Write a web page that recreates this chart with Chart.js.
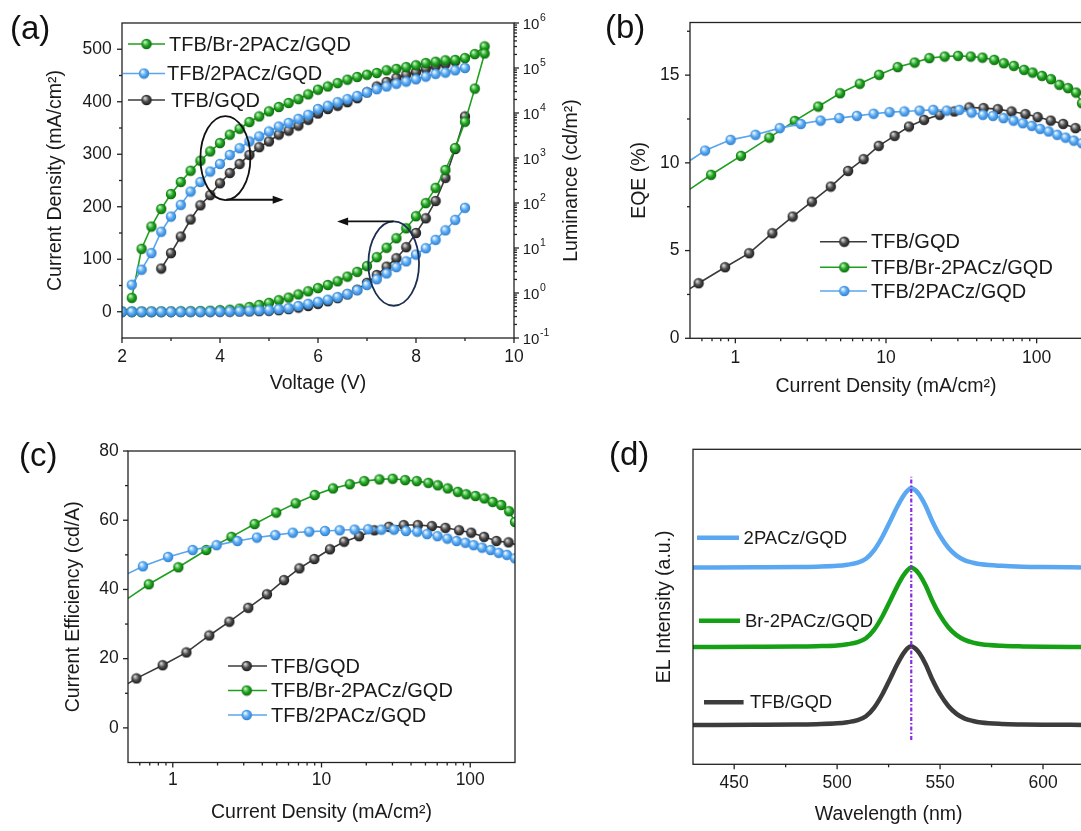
<!DOCTYPE html>
<html>
<head>
<meta charset="utf-8">
<script src="https://cdn.jsdelivr.net/npm/chart.js@4.4.1/dist/chart.umd.min.js"></script>
<style>
  body { margin: 0; width: 1081px; height: 831px; overflow: hidden; background: #fff; position: relative;
         font-family: "Liberation Sans", Arial, Helvetica, sans-serif; }
  canvas { position: absolute; }
  .tag { position: absolute; font-size: 33px; line-height: 33px; color: #111; }
</style>
</head>
<body>
<canvas id="panelA" width="620" height="410" style="left:0;top:0"></canvas>
<canvas id="panelB" width="560" height="410" style="left:600px;top:0"></canvas>
<canvas id="panelC" width="560" height="421" style="left:0;top:410px"></canvas>
<canvas id="panelD" width="620" height="421" style="left:540px;top:410px"></canvas>
<div class="tag" style="left:10px;top:11px">(a)</div>
<div class="tag" style="left:605px;top:10px">(b)</div>
<div class="tag" style="left:19px;top:438px">(c)</div>
<div class="tag" style="left:609px;top:437px">(d)</div>
<script>
// ---- (a) J-V-L ----
const voltGreenJ = [2.0, 2.2, 2.4, 2.6, 2.8, 3.0, 3.2, 3.4, 3.6, 3.8, 4.0, 4.2, 4.4, 4.6, 4.8, 5.0, 5.2, 5.4, 5.6, 5.8,
  6.0, 6.2, 6.4, 6.6, 6.8, 7.0, 7.2, 7.4, 7.6, 7.8, 8.0, 8.2, 8.4, 8.6, 8.8, 9.0, 9.2, 9.4];
const greenJ = [0, 0, 0, 0, 0.2, 0.3, 0.5, 0.8, 1.2, 2, 3, 4, 6, 9, 13, 17, 22, 27, 33, 39,
  45, 51, 58, 67, 76, 87, 104, 122, 140, 159, 182, 207, 236, 270, 312, 362, 425, 492];
const voltJ = [2.0, 2.2, 2.4, 2.6, 2.8, 3.0, 3.2, 3.4, 3.6, 3.8, 4.0, 4.2, 4.4, 4.6, 4.8, 5.0, 5.2, 5.4, 5.6, 5.8,
  6.0, 6.2, 6.4, 6.6, 6.8, 7.0, 7.2, 7.4, 7.6, 7.8, 8.0, 8.2, 8.4, 8.6, 8.8, 9.0];
const blueJ = [0, 0, 0, 0, 0, 0, 0, 0.1, 0.2, 0.4, 0.6, 0.9, 1.3, 1.8, 2.5, 3.5, 5, 7, 11, 15,
  19, 23, 28, 34, 41, 51, 62, 73, 85, 96, 109, 121, 137, 155, 175, 198];
const blackJ = [0, 0, 0, 0, 0, 0, 0, 0, 0, 0.1, 0.2, 0.3, 0.5, 0.8, 1.2, 2, 3, 5, 8, 11,
  15, 20, 26, 33, 42, 55, 70, 86, 102, 123, 150, 178, 211, 255, 310, 372];

const voltGreenL = [2.2, 2.4, 2.6, 2.8, 3.0, 3.2, 3.4, 3.6, 3.8, 4.0, 4.2, 4.4, 4.6, 4.8, 5.0, 5.2, 5.4, 5.6, 5.8,
  6.0, 6.2, 6.4, 6.6, 6.8, 7.0, 7.2, 7.4, 7.6, 7.8, 8.0, 8.2, 8.4, 8.6, 8.8, 9.0, 9.2, 9.4];
const greenL = [0.78, 9.6, 30, 74, 158, 293, 522, 871, 1400, 2150, 3300, 4480, 6300, 8400, 10900,
  13600, 16700, 20400, 26000, 33000, 38900, 46200, 55000, 63100, 70800, 77600, 89100, 95500, 104700, 114800,
  128800, 138000, 147900, 151400, 166000, 204000, 302000];
const voltBlueL = [2.2, 2.4, 2.6, 2.8, 3.0, 3.2, 3.4, 3.6, 3.8, 4.0, 4.2, 4.4, 4.6, 4.8, 5.0, 5.2, 5.4, 5.6, 5.8,
  6.0, 6.2, 6.4, 6.6, 6.8, 7.0, 7.2, 7.4, 7.6, 7.8, 8.0, 8.2, 8.4, 8.6, 8.8, 9.0];
const blueL = [1.53, 3.3, 7.7, 23, 50, 91, 180, 293, 500, 740, 1170, 1650, 2340, 3020, 3890,
  5000, 6030, 7410, 9120, 12300, 14500, 17400, 20400, 24000, 28800, 33900, 38900, 44700, 50100, 56200,
  64600, 74100, 79400, 89100, 100000];
const voltBlackL = [2.8, 3.0, 3.2, 3.4, 3.6, 3.8, 4.0, 4.2, 4.4, 4.6, 4.8, 5.0, 5.2, 5.4, 5.6, 5.8,
  6.0, 6.2, 6.4, 6.6, 6.8, 7.0, 7.2, 7.4, 7.6, 7.8, 8.0, 8.2, 8.4, 8.6, 8.8];
const blackL = [3.5, 7.7, 18, 43, 89, 150, 275, 465, 740, 1170, 1740, 2340, 3310, 4070, 5250,
  7080, 9770, 12300, 14500, 17400, 21400, 28800, 38900, 49000, 60300, 70800, 81300, 95500, 109600, 123000, 141000];

// ---- (b) EQE and (c) current efficiency vs current density ----
const blackCurrent = [0.5, 0.57, 0.855, 1.235, 1.76, 2.40, 3.22, 4.3, 5.6, 7.1, 8.95, 11.4, 14.2, 17.9, 22.7,
  28.4, 35.7, 44.4, 55.2, 68.1, 84.2, 101.5, 124, 150, 181, 200];
const blackEQE = [2.83, 3.14, 4.05, 4.85, 5.99, 6.94, 7.79, 8.65, 9.54, 10.21, 10.97, 11.54, 12.07, 12.45, 12.74,
  12.93, 13.16, 13.12, 13.06, 12.93, 12.78, 12.61, 12.41, 12.22, 11.98, 11.84];
const blackCE = [12.8, 14.3, 18.1, 21.8, 26.7, 30.7, 34.7, 38.6, 42.7, 46.1, 48.8, 51.6, 53.8, 55.4, 57.1,
  58.1, 58.6, 58.6, 58.3, 57.8, 57.1, 56.4, 55.2, 54.0, 53.6, 53.0];

const greenCurrent = [0.5, 0.69, 1.09, 1.68, 2.48, 3.55, 4.96, 6.7, 9.0, 11.95, 15.5, 19.4, 24.5, 30.1, 36.5,
  43.7, 52.3, 60.5, 70.5, 82.5, 94, 108.5, 124.5, 141.5, 161.5, 182.5, 200];
const greenEQE = [8.5, 9.32, 10.40, 11.44, 12.39, 13.21, 13.97, 14.51, 15.02, 15.46, 15.72, 15.97, 16.06, 16.10, 16.06,
  16.0, 15.87, 15.68, 15.53, 15.30, 15.15, 14.96, 14.77, 14.45, 14.26, 14.01, 13.4];
const greenCE = [37.4, 41.5, 46.4, 51.4, 55.2, 58.9, 62.2, 64.9, 67.3, 69.2, 70.4, 71.3, 71.8, 72.0, 71.6,
  71.3, 70.8, 70.1, 69.2, 68.2, 67.5, 67.0, 66.3, 65.3, 64.4, 62.6, 59.5];

const blueCurrent = [0.5, 0.63, 0.93, 1.36, 1.97, 2.72, 3.68, 4.89, 6.41, 8.27, 10.55, 13.25, 16.7, 20.6, 25.3,
  30.7, 37, 44, 51.3, 60.2, 70.2, 81, 92.8, 105.5, 120, 137, 155.5, 176.5, 200];
const blueEQE = [10.13, 10.70, 11.31, 11.60, 11.98, 12.22, 12.41, 12.55, 12.68, 12.80, 12.89, 12.93, 12.98, 13.02, 12.98,
  13.02, 12.87, 12.74, 12.68, 12.55, 12.41, 12.26, 12.11, 11.94, 11.79, 11.60, 11.44, 11.27, 11.12];
const blueCE = [44.6, 46.7, 49.4, 51.4, 52.8, 54.0, 55.0, 55.7, 56.4, 56.7, 56.9, 57.1, 57.3, 57.4, 57.3,
  57.3, 56.9, 56.7, 56.0, 55.4, 54.7, 54.0, 53.5, 52.8, 52.1, 51.4, 50.6, 50.0, 49.0];

// ---- (d) EL spectra (stacked, arbitrary units) ----
const wavelength = [430, 460, 480, 490, 500, 505, 510, 514, 518, 522, 526, 529, 532, 534, 536, 538, 540, 543, 546,
  550, 554, 558, 562, 566, 570, 580, 590, 600, 620];
const elBlack = [0.5, 0.502, 0.505, 0.51, 0.52, 0.535, 0.56, 0.61, 0.72, 0.89, 1.10, 1.26, 1.40, 1.47, 1.50, 1.47,
  1.41, 1.27, 1.09, 0.89, 0.74, 0.64, 0.58, 0.55, 0.53, 0.512, 0.506, 0.503, 0.5];
const elGreen = [1.49, 1.492, 1.495, 1.5, 1.51, 1.525, 1.55, 1.6, 1.71, 1.88, 2.09, 2.25, 2.39, 2.46, 2.50, 2.47,
  2.41, 2.27, 2.09, 1.89, 1.74, 1.64, 1.58, 1.545, 1.525, 1.505, 1.497, 1.493, 1.49];
const elBlue = [2.5, 2.502, 2.505, 2.51, 2.52, 2.535, 2.56, 2.61, 2.72, 2.89, 3.10, 3.26, 3.40, 3.47, 3.51, 3.48,
  3.42, 3.28, 3.10, 2.90, 2.75, 2.65, 2.59, 2.56, 2.54, 2.52, 2.51, 2.505, 2.5];
const peakLine = [536, 0.31, 3.65];

const lumExponents = [-1, 0, 1, 2, 3, 4, 5, 6];

const FONT = '"Liberation Sans", Arial, Helvetica, sans-serif';
Chart.defaults.font.family = FONT;
Chart.defaults.color = '#1a1a1a';

function sphere(fill, dark, light) {
  const c = document.createElement('canvas');
  c.width = 12; c.height = 12;
  const g = c.getContext('2d');
  const grd = g.createRadialGradient(4.3, 4, 0.4, 6, 6, 5.6);
  grd.addColorStop(0, light);
  grd.addColorStop(0.5, fill);
  grd.addColorStop(1, dark);
  g.fillStyle = grd;
  g.beginPath();
  g.arc(6, 6, 5.2, 0, Math.PI * 2);
  g.fill();
  return c;
}

const tone = {
  black: { line: '#3b3b3b', ball: sphere('#4d4d4d', '#151515', '#dcdcdc') },
  green: { line: '#1f9f1f', ball: sphere('#22a822', '#0a5f0a', '#c8f5c8') },
  blue: { line: '#58a6ee', ball: sphere('#5aacf4', '#2a78c8', '#f2f9ff') }
};

function pts(xs, ys) {
  return xs.map((x, i) => ({ x: x, y: ys[i] }));
}

function series(label, xs, ys, t, axisId, hideAt) {
  return {
    label: label,
    data: pts(xs, ys),
    yAxisID: axisId || 'y',
    borderColor: t.line,
    borderWidth: 1.6,
    pointStyle: t.ball,
    pointRadius: c => (c.raw && hideAt && hideAt.includes(c.raw.x)) ? 0 : 5,
    tension: 0,
    fill: false
  };
}

function axis(o) {
  return {
    type: o.type || 'linear',
    position: o.position,
    min: o.min,
    max: o.max,
    afterBuildTicks: s => { s.ticks = o.major.map(v => ({ value: v })); },
    afterFit: s => { if (o.position === 'bottom') s.height = o.size; else s.width = o.size; },
    grid: { display: false, drawTicks: false },
    border: { display: false },
    ticks: {
      display: o.labels !== false, padding: o.labelPad || 0, autoSkip: false, maxRotation: 0,
      font: { size: 17.5 }, color: '#1a1a1a', callback: v => String(v)
    },
    title: o.title ? {
      display: true, text: o.title, font: { size: 19.5 }, color: '#1a1a1a',
      padding: o.position === 'bottom' ? { top: 0, bottom: o.titlePad } : { top: o.titlePad, bottom: 0 }
    } : { display: false }
  };
}

function logMinor(lo, hi) {
  const out = [];
  for (let e = lo; e <= hi; e++) {
    for (let k = 2; k <= 9; k++) out.push(k * Math.pow(10, e));
  }
  return out;
}

// frame box plus outward major/minor ticks
const framePlugin = {
  id: 'frame',
  afterDatasetsDraw(chart, args, o) {
    const { ctx, chartArea: a } = chart;
    ctx.save();
    ctx.strokeStyle = '#222';
    ctx.lineWidth = 1.3;
    ctx.strokeRect(a.left, a.top, a.right - a.left, a.bottom - a.top);
    (o.marks || []).forEach(m => {
      const s = chart.scales[m.id];
      const tick = (v, len) => {
        const p = s.getPixelForValue(v);
        ctx.beginPath();
        if (m.side === 'bottom') { ctx.moveTo(p, a.bottom); ctx.lineTo(p, a.bottom + len); }
        else if (m.side === 'left') { ctx.moveTo(a.left, p); ctx.lineTo(a.left - len, p); }
        else { ctx.moveTo(a.right, p); ctx.lineTo(a.right + len, p); }
        ctx.stroke();
      };
      (m.major || s.ticks.map(t => t.value)).forEach(v => tick(v, 5));
      (m.minor || []).forEach(v => { if (v > s.min && v < s.max) tick(v, 3); });
    });
    ctx.restore();
  }
};

// hand-placed legends, as in the figure
const keysPlugin = {
  id: 'keys',
  afterDraw(chart, args, o) {
    const ctx = chart.ctx;
    ctx.save();
    ctx.font = o.size + 'px ' + FONT;
    ctx.textBaseline = 'middle';
    o.items.forEach(it => {
      ctx.strokeStyle = it.color;
      ctx.lineWidth = it.lw || 1.6;
      ctx.beginPath();
      ctx.moveTo(it.x1, it.y);
      ctx.lineTo(it.x2, it.y);
      ctx.stroke();
      if (it.img) ctx.drawImage(it.img, it.mx - it.img.width / 2, it.y - it.img.height / 2);
      ctx.fillStyle = '#1a1a1a';
      ctx.fillText(it.text, it.tx, it.y + 1);
    });
    ctx.restore();
  }
};

// ellipses and arrows pointing to the axes in (a)
const calloutPlugin = {
  id: 'callouts',
  afterDatasetsDraw(chart, args, o) {
    const { ctx, scales: { x, y } } = chart;
    ctx.save();
    o.rings.forEach(r => {
      const cx = x.getPixelForValue(r.v), cy = y.getPixelForValue(r.j);
      const rx = x.getPixelForValue(r.v + r.dv) - cx;
      const ry = cy - y.getPixelForValue(r.j + r.dj);
      ctx.strokeStyle = r.color;
      ctx.lineWidth = 1.8;
      ctx.beginPath();
      ctx.ellipse(cx, cy, rx, ry, 0, 0, Math.PI * 2);
      ctx.stroke();
    });
    o.arrows.forEach(r => {
      const x0 = x.getPixelForValue(r.from), x1 = x.getPixelForValue(r.to), py = y.getPixelForValue(r.j);
      const dir = Math.sign(x1 - x0);
      ctx.strokeStyle = '#111';
      ctx.fillStyle = '#111';
      ctx.lineWidth = 1.8;
      ctx.beginPath();
      ctx.moveTo(x0, py);
      ctx.lineTo(x1 - dir * 6, py);
      ctx.stroke();
      ctx.beginPath();
      ctx.moveTo(x1, py);
      ctx.lineTo(x1 - dir * 11, py - 4);
      ctx.lineTo(x1 - dir * 11, py + 4);
      ctx.closePath();
      ctx.fill();
    });
    ctx.restore();
  }
};

// luminance axis labels (10 with raised exponent) and its title, read bottom-to-top
const lumAxisPlugin = {
  id: 'lumAxis',
  afterDraw(chart) {
    const { ctx, chartArea: a } = chart;
    const s = chart.scales.y2;
    ctx.save();
    ctx.fillStyle = '#1a1a1a';
    ctx.textBaseline = 'middle';
    lumExponents.forEach(e => {
      const p = s.getPixelForValue(Math.pow(10, e));
      ctx.font = '15px ' + FONT;
      ctx.fillText('10', a.right + 8.7, p + 1.5);
      const w = ctx.measureText('10').width;
      ctx.font = '10.5px ' + FONT;
      ctx.fillText(String(e), a.right + 9.2 + w, p - 4.5);
    });
    ctx.font = '19.5px ' + FONT;
    ctx.translate(572, (a.top + a.bottom) / 2);
    ctx.rotate(-Math.PI / 2);
    ctx.textAlign = 'center';
    ctx.fillText('Luminance (cd/m²)', 0, 0);
    ctx.restore();
  }
};

const common = { responsive: false, animation: false, devicePixelRatio: 1, events: [] };
const logCurrentMinor = [0.6, 0.7, 0.8, 0.9].concat(logMinor(0, 1), [200]);

// (a)
new Chart(document.getElementById('panelA'), {
  type: 'line',
  data: {
    datasets: [
      series('TFB/2PACz/GQD J', voltJ, blueJ, tone.blue, 'y'),
      series('TFB/2PACz/GQD L', voltBlueL, blueL, tone.blue, 'y2'),
      series('TFB/Br-2PACz/GQD J', voltGreenJ, greenJ, tone.green, 'y'),
      series('TFB/Br-2PACz/GQD L', voltGreenL, greenL, tone.green, 'y2'),
      series('TFB/GQD J', voltJ, blackJ, tone.black, 'y'),
      series('TFB/GQD L', voltBlackL, blackL, tone.black, 'y2')
    ]
  },
  options: Object.assign({}, common, {
    layout: { padding: { top: 23, left: 0, right: 0, bottom: 0 } },
    plugins: {
      legend: { display: false }, tooltip: { enabled: false },
      frame: { marks: [
        { id: 'x', side: 'bottom', minor: [3, 5, 7, 9] },
        { id: 'y', side: 'left', minor: [50, 150, 250, 350, 450] },
        { id: 'y2', side: 'right', minor: logMinor(-1, 5) }
      ] },
      keys: { size: 20, items: [
        { x1: 128, x2: 165, mx: 146.5, y: 44, tx: 169, text: 'TFB/Br-2PACz/GQD', color: tone.green.line, img: tone.green.ball },
        { x1: 123, x2: 165, mx: 144, y: 73.5, tx: 167, text: 'TFB/2PACz/GQD', color: tone.blue.line, img: tone.blue.ball },
        { x1: 128, x2: 165, mx: 146.5, y: 100, tx: 171, text: 'TFB/GQD', color: tone.black.line, img: tone.black.ball }
      ] },
      callouts: {
        rings: [
          { v: 4.11, j: 292.8, dv: 0.51, dj: 80, color: '#111' },
          { v: 7.545, j: 91.8, dv: 0.517, dj: 80.4, color: '#1c2e52' }
        ],
        arrows: [
          { from: 4.13, to: 5.30, j: 213.3 },
          { from: 7.54, to: 6.39, j: 172 }
        ]
      }
    },
    scales: {
      x: axis({ position: 'bottom', min: 2, max: 10, major: [2, 4, 6, 8, 10], size: 72, labelPad: 9.1,
        title: 'Voltage (V)', titlePad: 15 }),
      y: axis({ position: 'left', min: -50, max: 550, major: [0, 100, 200, 300, 400, 500], size: 122, labelPad: 10.3,
        title: 'Current Density (mA/cm²)', titlePad: 44.3 }),
      y2: axis({ type: 'logarithmic', position: 'right', min: 0.1, max: 1e6, major: lumExponents.map(e => Math.pow(10, e)),
        size: 106, labels: false })
    }
  }),
  plugins: [framePlugin, calloutPlugin, keysPlugin, lumAxisPlugin]
});

// (b)
new Chart(document.getElementById('panelB'), {
  type: 'line',
  data: {
    datasets: [
      series('TFB/2PACz/GQD', blueCurrent, blueEQE, tone.blue, 'y', [0.5]),
      series('TFB/Br-2PACz/GQD', greenCurrent, greenEQE, tone.green, 'y', [0.5]),
      series('TFB/GQD', blackCurrent, blackEQE, tone.black, 'y', [0.5, 200])
    ]
  },
  options: Object.assign({}, common, {
    layout: { padding: { top: 22.5, left: 0, right: 78, bottom: 0 } },
    plugins: {
      legend: { display: false }, tooltip: { enabled: false },
      frame: { marks: [
        { id: 'x', side: 'bottom', minor: logCurrentMinor },
        { id: 'y', side: 'left', minor: [2.5, 7.5, 12.5, 17.5] }
      ] },
      keys: { size: 20, items: [
        { x1: 220, x2: 267, mx: 244.3, y: 241.7, tx: 271, text: 'TFB/GQD', color: tone.black.line, img: tone.black.ball },
        { x1: 220, x2: 267, mx: 244.3, y: 267.3, tx: 271, text: 'TFB/Br-2PACz/GQD', color: tone.green.line, img: tone.green.ball },
        { x1: 220, x2: 267, mx: 244.3, y: 291, tx: 271, text: 'TFB/2PACz/GQD', color: tone.blue.line, img: tone.blue.ball }
      ] }
    },
    scales: {
      x: axis({ type: 'logarithmic', position: 'bottom', min: 0.5, max: 200, major: [1, 10, 100], size: 71.7, labelPad: 9.1,
        title: 'Current Density (mA/cm²)', titlePad: 11.3 }),
      y: axis({ position: 'left', min: 0, max: 18, major: [0, 5, 10, 15], size: 90, labelPad: 10.5,
        title: 'EQE (%)', titlePad: 28.2 })
    }
  }),
  plugins: [framePlugin, keysPlugin]
});

// (c)
new Chart(document.getElementById('panelC'), {
  type: 'line',
  data: {
    datasets: [
      series('TFB/2PACz/GQD', blueCurrent, blueCE, tone.blue, 'y', [0.5]),
      series('TFB/Br-2PACz/GQD', greenCurrent, greenCE, tone.green, 'y', [0.5]),
      series('TFB/GQD', blackCurrent, blackCE, tone.black, 'y', [0.5, 200])
    ]
  },
  options: Object.assign({}, common, {
    layout: { padding: { top: 41, left: 0, right: 45, bottom: 0 } },
    plugins: {
      legend: { display: false }, tooltip: { enabled: false },
      frame: { marks: [
        { id: 'x', side: 'bottom', minor: logCurrentMinor },
        { id: 'y', side: 'left', minor: [10, 30, 50, 70] }
      ] },
      keys: { size: 20, items: [
        { x1: 228, x2: 267, mx: 246.7, y: 256, tx: 271, text: 'TFB/GQD', color: tone.black.line, img: tone.black.ball },
        { x1: 228, x2: 267, mx: 246.7, y: 280.5, tx: 271, text: 'TFB/Br-2PACz/GQD', color: tone.green.line, img: tone.green.ball },
        { x1: 228, x2: 267, mx: 246.7, y: 305, tx: 271, text: 'TFB/2PACz/GQD', color: tone.blue.line, img: tone.blue.ball }
      ] }
    },
    scales: {
      x: axis({ type: 'logarithmic', position: 'bottom', min: 0.5, max: 200, major: [1, 10, 100], size: 68.5, labelPad: 7,
        title: 'Current Density (mA/cm²)', titlePad: 6.8 }),
      y: axis({ position: 'left', min: -10, max: 80, major: [0, 20, 40, 60, 80], size: 128, labelPad: 9.2,
        title: 'Current Efficiency (cd/A)', titlePad: 61.5 })
    }
  }),
  plugins: [framePlugin, keysPlugin]
});

// (d)
function spectrum(label, ys, color) {
  return {
    label: label, data: pts(wavelength, ys), borderColor: color, borderWidth: 4.5,
    pointRadius: 0, cubicInterpolationMode: 'monotone', fill: false
  };
}
new Chart(document.getElementById('panelD'), {
  type: 'line',
  data: {
    datasets: [
      {
        label: 'peak', data: [{ x: peakLine[0], y: peakLine[1] }, { x: peakLine[0], y: peakLine[2] }],
        borderColor: '#8b2be2', borderWidth: 2.2, borderDash: [4, 2, 1.5, 2], pointRadius: 0
      },
      spectrum('2PACz/GQD', elBlue, '#5aa8f2'),
      spectrum('Br-2PACz/GQD', elGreen, '#16a016'),
      spectrum('TFB/GQD', elBlack, '#3c3c3c')
    ]
  },
  options: Object.assign({}, common, {
    layout: { padding: { top: 39.3, left: 0, right: 75.8, bottom: 0 } },
    plugins: {
      legend: { display: false }, tooltip: { enabled: false },
      frame: { marks: [{ id: 'x', side: 'bottom', minor: [475, 525, 575] }] },
      keys: { size: 18.5, items: [
        { x1: 157, x2: 199, y: 127.7, tx: 203.6, text: '2PACz/GQD', color: '#5aa8f2', lw: 4.5 },
        { x1: 159, x2: 200, y: 210.7, tx: 205, text: 'Br-2PACz/GQD', color: '#16a016', lw: 4.5 },
        { x1: 164, x2: 203.6, y: 292.3, tx: 210, text: 'TFB/GQD', color: '#3c3c3c', lw: 4.5 }
      ] }
    },
    scales: {
      x: axis({ position: 'bottom', min: 430, max: 620, major: [450, 500, 550, 600], size: 66.7, labelPad: 8.5,
        title: 'Wavelength (nm)', titlePad: 4.3 }),
      y: axis({ position: 'left', min: 0, max: 4, major: [], size: 153, labels: false,
        title: 'EL Intensity (a.u.)', titlePad: 113.4 })
    }
  }),
  plugins: [framePlugin, keysPlugin]
});
</script>
</body>
</html>
